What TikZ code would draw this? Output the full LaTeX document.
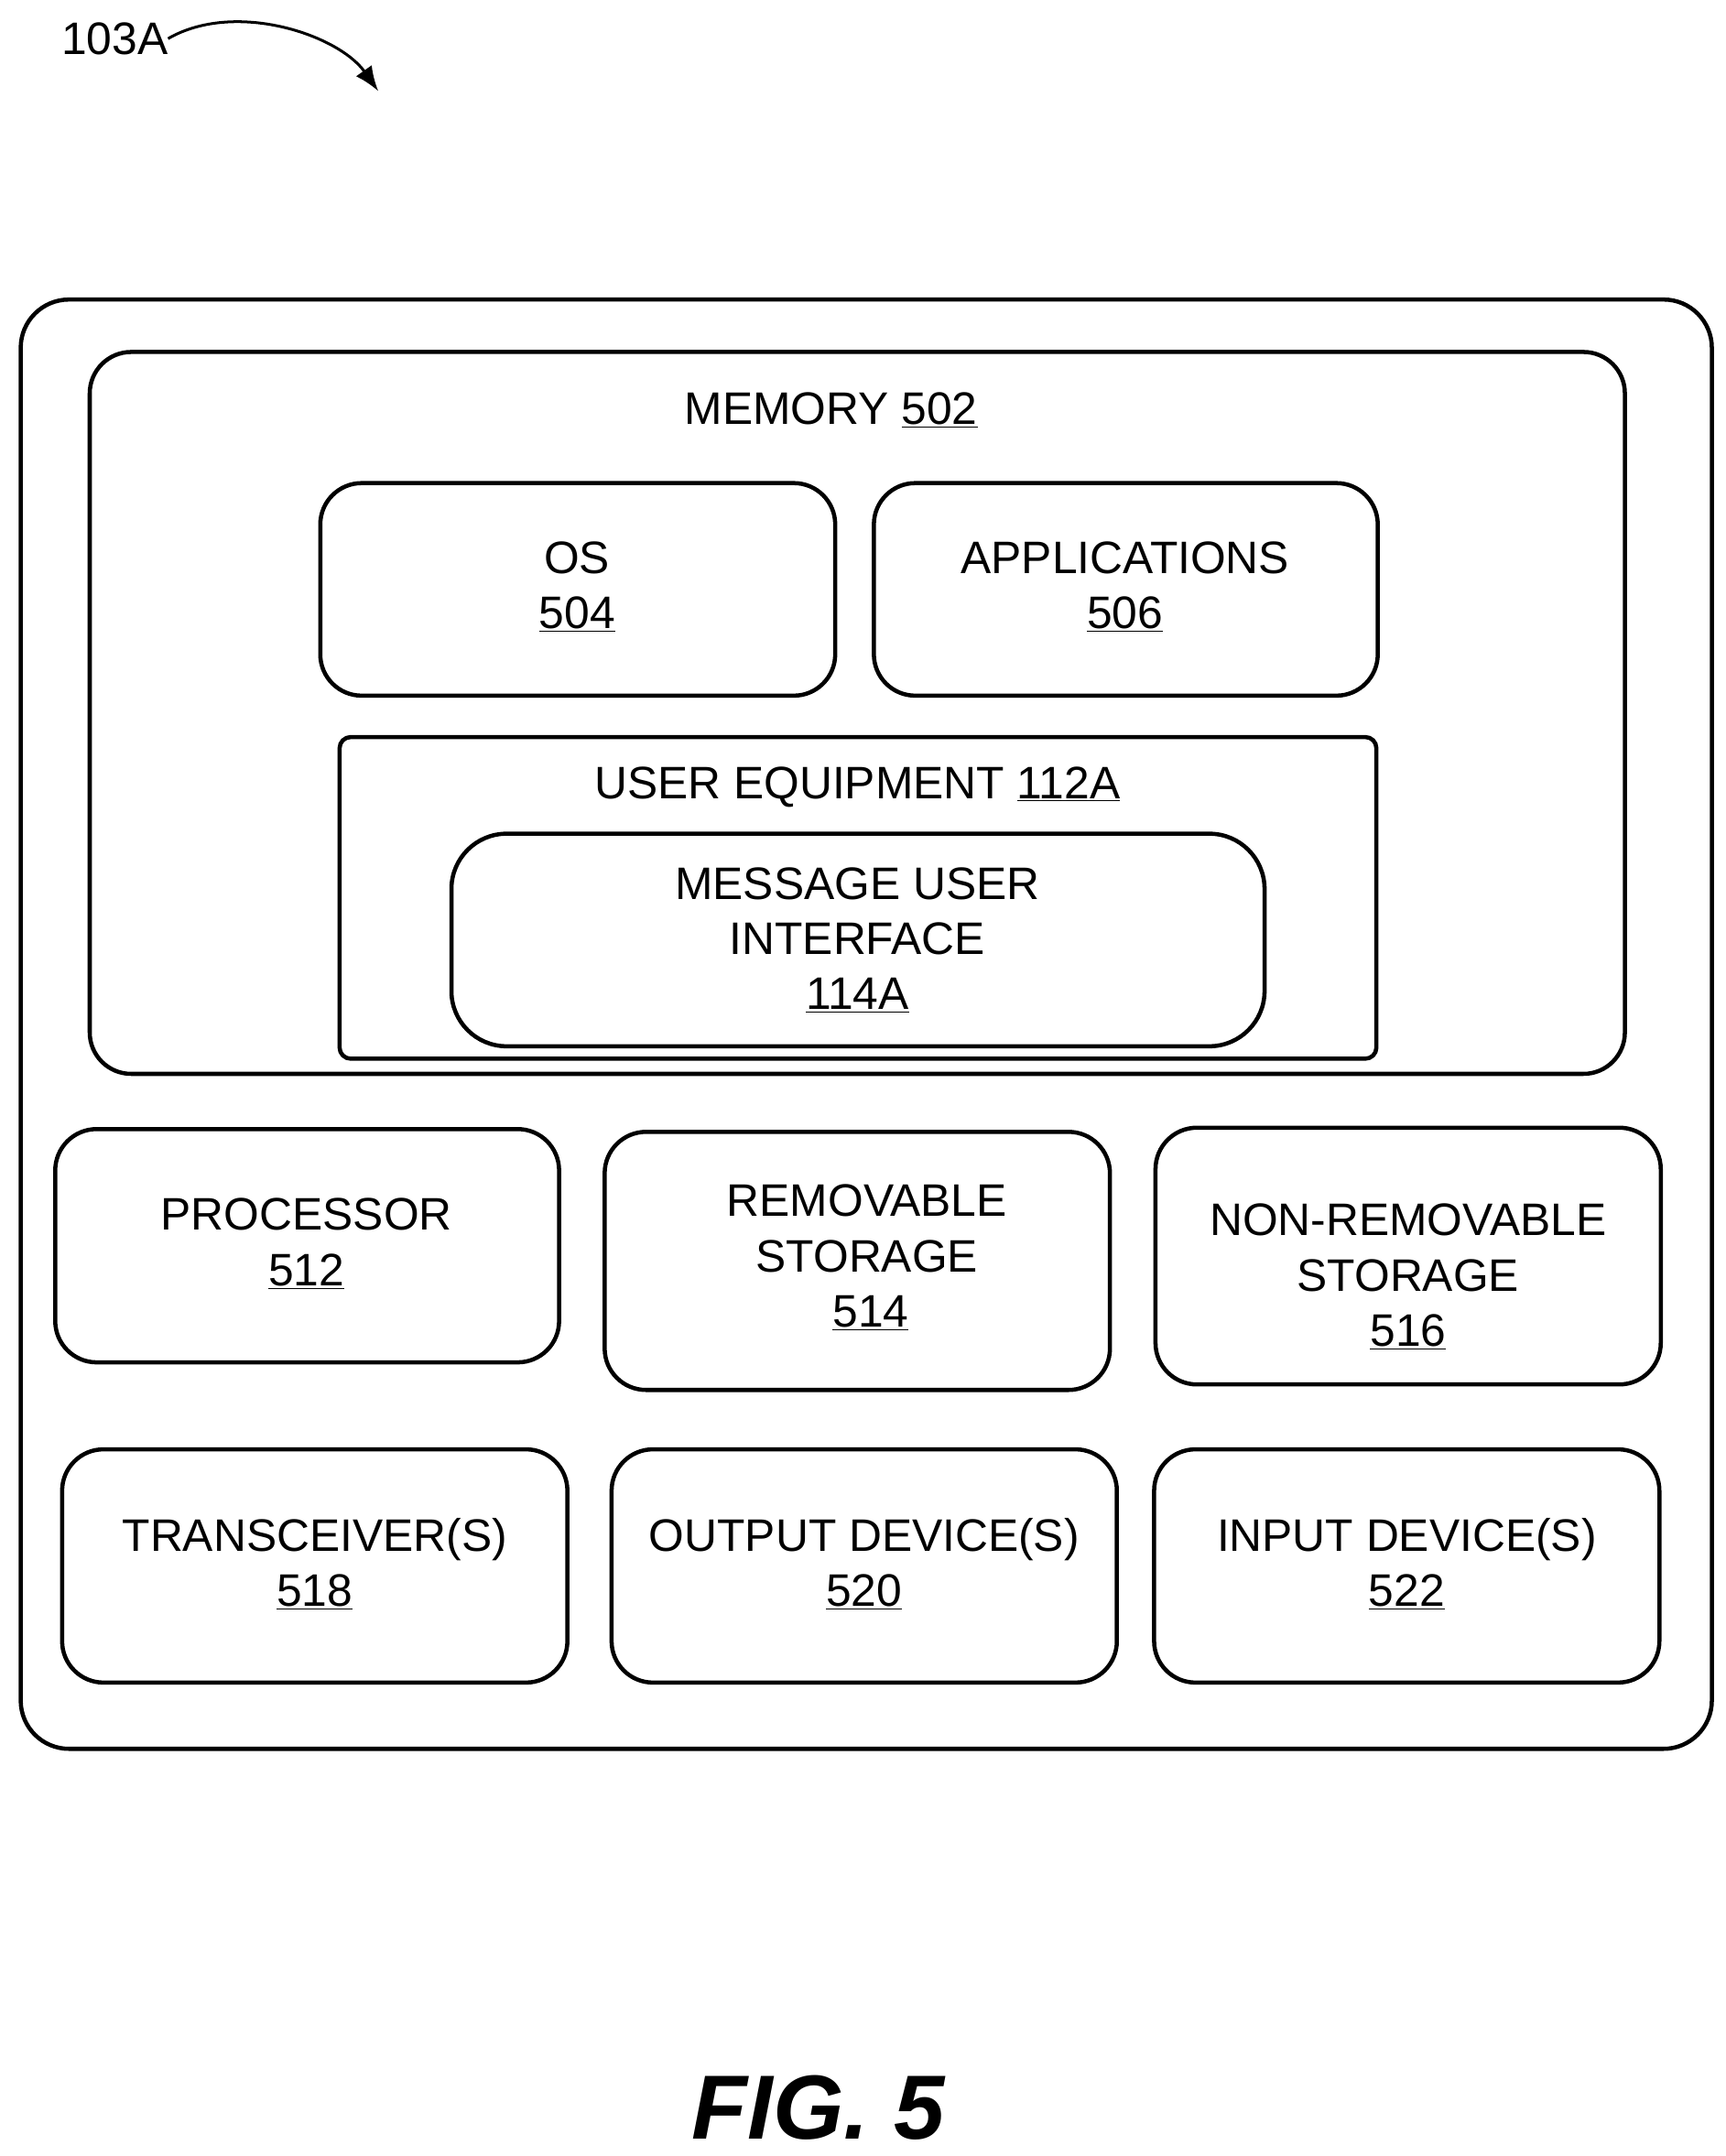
\documentclass[tikz,border=0pt]{standalone}
\usepackage{fontspec}
\usetikzlibrary{arrows.meta}
\setmainfont{Liberation Sans}
\begin{document}
\begin{tikzpicture}[x=1pt,y=-1pt,
  box/.style={draw,line width=3pt,rounded corners=30pt},
  lbl/.style={font=\fontsize{33}{40}\selectfont,align=center,inner sep=0pt}]
\useasboundingbox (0,0) rectangle (1250,1562);
\draw[box,rounded corners=35pt] (15,217) rectangle (1240,1267);
\draw[box] (65,255) rectangle (1177,778);
\node[lbl] (mem) at (602,297) {MEMORY \underline{502}};
\draw[box] (232,350) rectangle (605,504);
\node[lbl] (os) at (418,425) {OS\\\underline{504}};
\draw[box] (633,350) rectangle (998,504);
\node[lbl] (app) at (815,425) {APPLICATIONS\\\underline{506}};
\draw[box,rounded corners=8pt] (246,534) rectangle (997,767);
\node[lbl] (ue) at (621,570) {USER EQUIPMENT \underline{112A}};
\draw[box,rounded corners=40pt] (327,604) rectangle (916,758);
\node[lbl] (mui) at (621,681) {MESSAGE USER\\INTERFACE\\\underline{114A}};
\draw[box] (40,818) rectangle (405,987);
\node[lbl] (p) at (222,901) {PROCESSOR\\\underline{512}};
\draw[box] (438,820) rectangle (804,1007);
\node[lbl] (rs) at (628,911) {REMOVABLE\\STORAGE\\\,\underline{514}};
\draw[box] (837,817) rectangle (1203,1003);
\node[lbl] (nrs) at (1020,925) {NON-REMOVABLE\\STORAGE\\\underline{516}};
\draw[box] (45,1050) rectangle (411,1219);
\node[lbl] (t) at (228,1133) {TRANSCEIVER(S)\\\underline{518}};
\draw[box] (443,1050) rectangle (809,1219);
\node[lbl] (o) at (626,1133) {OUTPUT DEVICE(S)\\\underline{520}};
\draw[box] (836,1050) rectangle (1202,1219);
\node[lbl] (i) at (1019,1133) {INPUT DEVICE(S)\\\underline{522}};
\node[lbl] (ref) at (83,28) {103A};
\coordinate (tip) at (274,66);
\draw[line width=2pt,-{Latex[length=18pt,width=14pt]}] (ref.east) .. controls (170,0) and (245,25) .. (tip);
\node[lbl,font=\bfseries\itshape\fontsize{66}{80}\selectfont] (fig) at (593,1527) {FIG. 5};
\end{tikzpicture}
\end{document}
